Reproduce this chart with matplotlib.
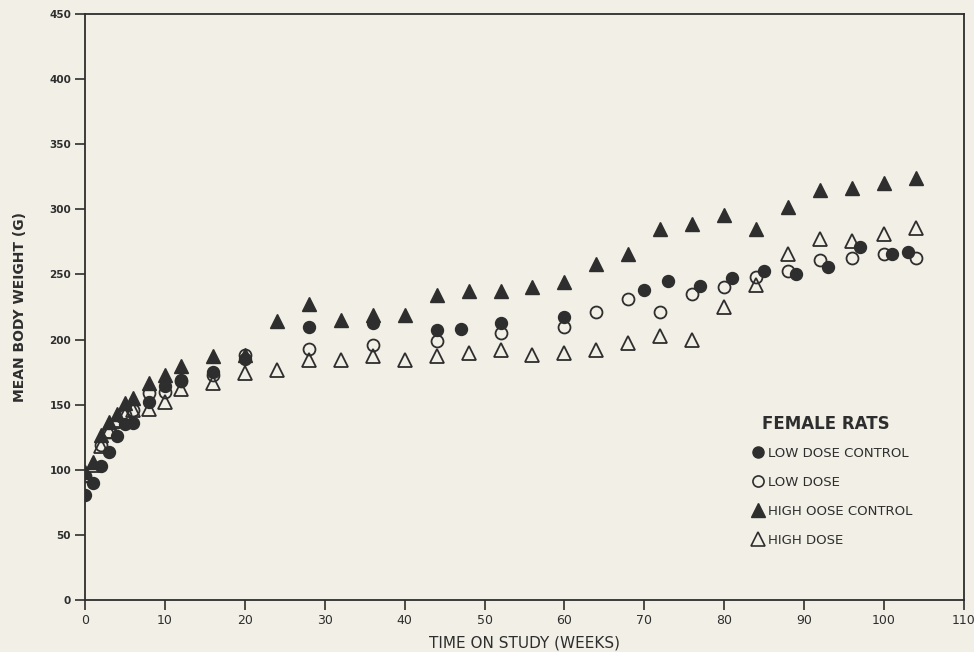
import matplotlib
matplotlib.use("Agg")
import matplotlib.pyplot as plt
from matplotlib.lines import Line2D

# ---- data ----
ldc_weeks = [0, 1, 2, 3, 4, 5, 6, 8, 10, 12, 16, 20, 28, 36, 44, 47, 52, 60,
             70, 73, 77, 81, 85, 89, 93, 97, 101, 103]
ldc_vals = [81, 90, 103, 114, 126, 135, 136, 152, 164, 169, 175, 185, 210, 213,
            207, 208, 213, 217, 238, 245, 241, 247, 253, 250, 256, 271, 266, 267]

ld_weeks = [0, 2, 3, 4, 5, 6, 8, 10, 12, 16, 20, 28, 36, 44, 52, 60, 64, 68,
            72, 76, 80, 84, 88, 92, 96, 100, 104]
ld_vals = [95, 119, 129, 137, 142, 146, 159, 160, 168, 173, 188, 193, 196, 199,
           205, 210, 221, 231, 221, 235, 240, 248, 253, 261, 263, 266, 263]

hdc_weeks = [0, 1, 2, 3, 4, 5, 6, 8, 10, 12, 16, 20, 24, 28, 32, 36, 40, 44,
             48, 52, 56, 60, 64, 68, 72, 76, 80, 84, 88, 92, 96, 100, 104]
hdc_vals = [98, 106, 127, 137, 143, 151, 155, 167, 173, 180, 187, 188, 214, 227,
            215, 219, 219, 234, 237, 237, 240, 244, 258, 266, 285, 289, 296,
            285, 302, 315, 316, 320, 324]

hd_weeks = [0, 1, 2, 3, 4, 5, 6, 8, 10, 12, 16, 20, 24, 28, 32, 36, 40, 44,
            48, 52, 56, 60, 64, 68, 72, 76, 80, 84, 88, 92, 96, 100, 104]
hd_vals = [96, 104, 118, 130, 138, 142, 146, 147, 152, 162, 167, 174, 177, 184,
           184, 187, 184, 187, 190, 192, 188, 190, 192, 197, 203, 200, 225, 242,
           266, 277, 276, 281, 286]

legend_title = "FEMALE RATS"
labels = ["LOW DOSE CONTROL", "LOW DOSE", "HIGH OOSE CONTROL", "HIGH DOSE"]
x_ticks = list(range(0, 111, 10))
y_ticks = list(range(0, 451, 50))

# ---- style ----
bg = "#f1efe6"
ink = "#2e2e2e"
narrow = ["Liberation Sans Narrow", "DejaVu Sans"]
plt.rcParams["font.family"] = ["DejaVu Sans"]

fig = plt.figure(figsize=(9.74, 6.52), dpi=100, facecolor=bg)
ax = fig.add_axes([85 / 974, 1 - 600 / 652, 879 / 974, 586 / 652])
ax.set_facecolor(bg)

ax.plot(hd_weeks, hd_vals, linestyle="none", marker="^", ms=10,
        mfc="none", mec=ink, mew=1.3)
ax.plot(ld_weeks, ld_vals, linestyle="none", marker="o", ms=8.6,
        mfc="none", mec=ink, mew=1.3)
ax.plot(ldc_weeks, ldc_vals, linestyle="none", marker="o", ms=8.6,
        mfc=ink, mec=ink, mew=1.0)
ax.plot(hdc_weeks, hdc_vals, linestyle="none", marker="^", ms=10,
        mfc=ink, mec=ink, mew=1.0)

ax.set_xlim(0, 110)
ax.set_ylim(0, 450)
ax.set_xticks(x_ticks)
ax.set_yticks(y_ticks)
ax.set_xticklabels([str(t) for t in x_ticks], family=narrow, fontsize=9,
                   color=ink)
ax.set_yticklabels([str(t) for t in y_ticks], fontsize=7.5, color=ink,
                   fontweight="bold")
ax.tick_params(axis="both", direction="out", length=7, width=1.2, color=ink,
               pad=3)
for s in ax.spines.values():
    s.set_color(ink)
    s.set_linewidth(1.3)

ax.set_xlabel("TIME ON STUDY (WEEKS)", family=narrow, fontsize=11,
              color=ink, labelpad=6)
ax.set_ylabel("MEAN BODY WEIGHT (G)", fontsize=10, color=ink,
              fontweight="semibold", labelpad=16)

handles = [
    Line2D([], [], linestyle="none", marker="o", ms=8, mfc=ink, mec=ink),
    Line2D([], [], linestyle="none", marker="o", ms=8, mfc="none", mec=ink,
           mew=1.2),
    Line2D([], [], linestyle="none", marker="^", ms=9.5, mfc=ink, mec=ink),
    Line2D([], [], linestyle="none", marker="^", ms=9.5, mfc="none", mec=ink,
           mew=1.2),
]
leg = ax.legend(handles, labels, loc="upper left",
                bbox_to_anchor=(0.754, 0.270), frameon=False,
                handlelength=0.8, handletextpad=0.3, borderaxespad=0,
                labelspacing=1.2, prop={"size": 9.5}, labelcolor=ink)
ax.text((762 - 85) / 879, (600 - 424) / 586, legend_title,
        transform=ax.transAxes, ha="left", va="center", fontsize=12,
        fontweight="bold", color=ink)

fig.savefig("out.png", dpi=100, facecolor=bg)
